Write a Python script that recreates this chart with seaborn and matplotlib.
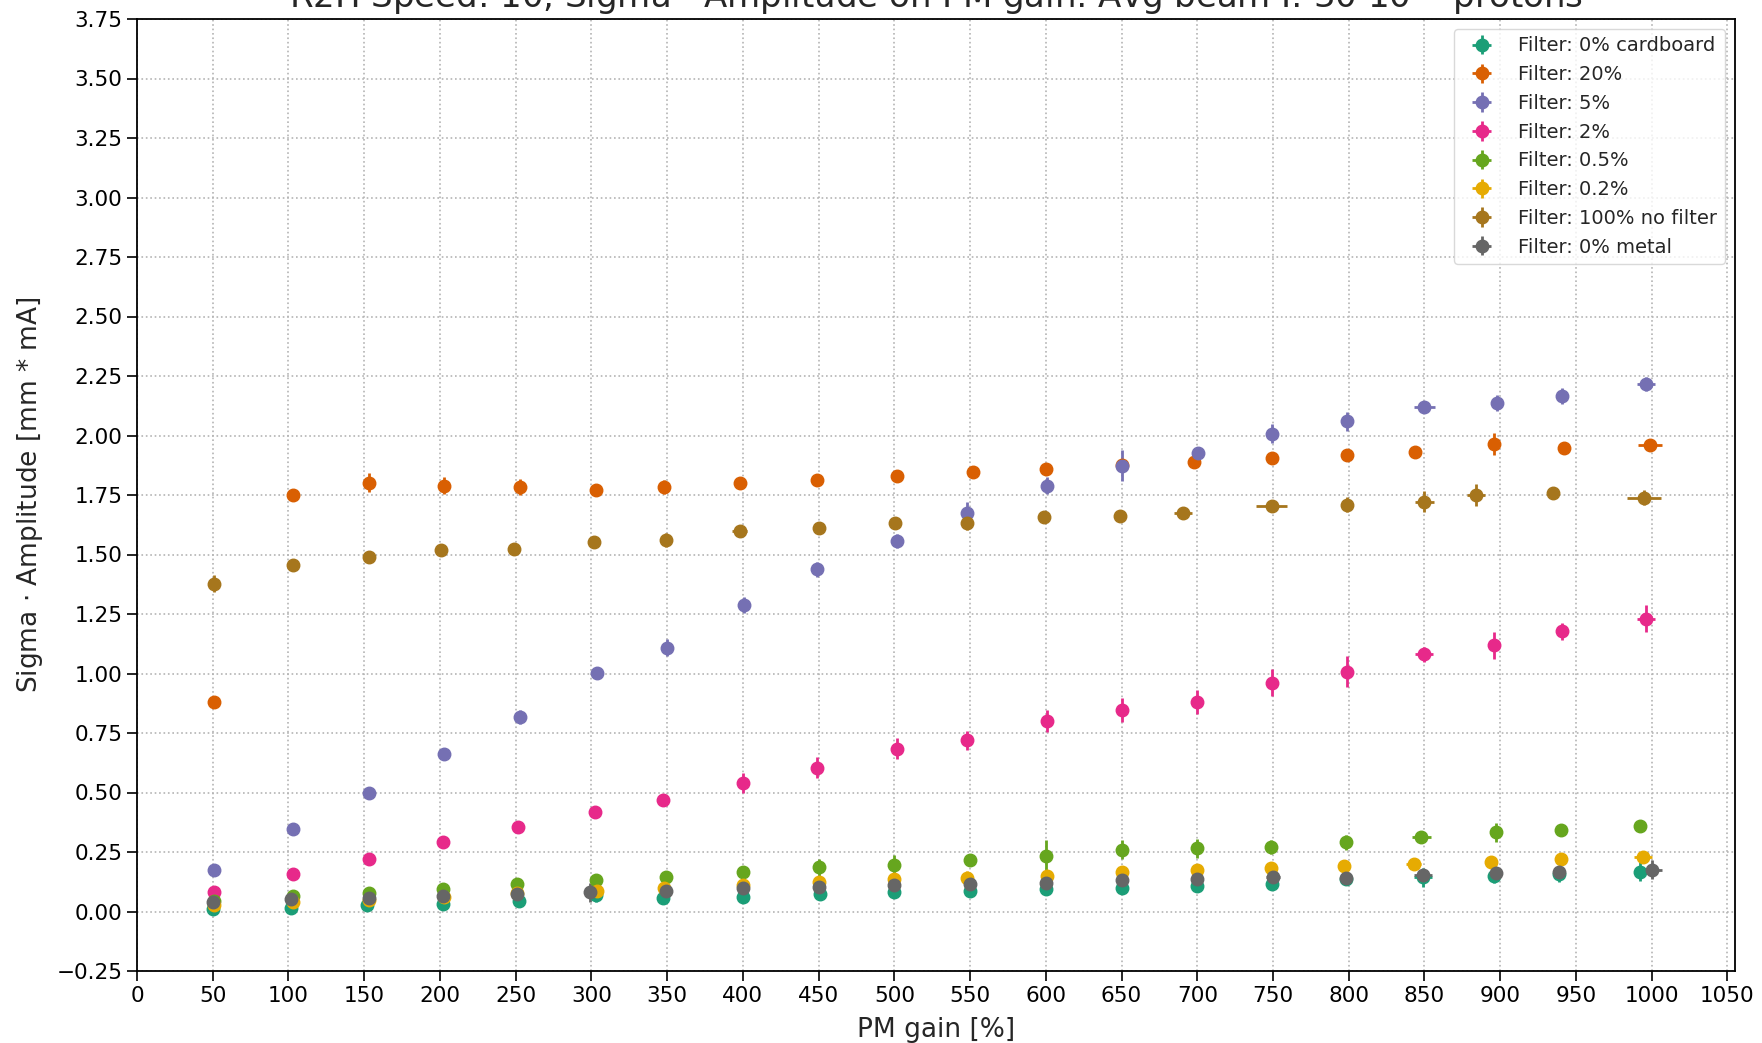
import numpy as np
import matplotlib
matplotlib.use("Agg")
import matplotlib.pyplot as plt
import seaborn as sns

# PM gain [%] and Sigma*Amplitude [mm*mA] per filter, with uncertainties
labels = ["Filter: 0% cardboard", "Filter: 20%", "Filter: 5%", "Filter: 2%",
          "Filter: 0.5%", "Filter: 0.2%", "Filter: 100% no filter", "Filter: 0% metal"]

cardboard_x = [50, 102, 152, 202, 252, 303, 347, 400, 451, 500, 550, 600, 650, 700, 749, 798, 849, 896, 939, 992]
cardboard_y = [0.010, 0.016, 0.026, 0.033, 0.046, 0.068, 0.058, 0.063, 0.075, 0.081, 0.087, 0.094, 0.099, 0.106, 0.116, 0.137, 0.143, 0.150, 0.157, 0.168]
cardboard_yerr = [0.01, 0.01, 0.01, 0.01, 0.01, 0.03, 0.01, 0.01, 0.01, 0.01, 0.01, 0.01, 0.01, 0.01, 0.01, 0.015, 0.04, 0.03, 0.035, 0.04]
cardboard_xerr = [0, 0, 0, 0, 0, 0, 0, 0, 0, 0, 0, 0, 0, 0, 0, 0, 6, 0, 0, 0]

f20_x = [51, 103, 153, 203, 253, 303, 348, 398, 449, 502, 552, 600, 650, 698, 749, 799, 844, 896, 942, 999]
f20_y = [0.879, 1.751, 1.801, 1.789, 1.783, 1.772, 1.784, 1.802, 1.814, 1.830, 1.847, 1.858, 1.878, 1.889, 1.904, 1.917, 1.931, 1.965, 1.946, 1.959]
f20_yerr = [0.012, 0.02, 0.04, 0.035, 0.035, 0.02, 0.03, 0.025, 0.015, 0.015, 0.015, 0.015, 0.015, 0.012, 0.012, 0.012, 0.012, 0.045, 0.012, 0.012]
f20_xerr = [0, 0, 0, 0, 0, 0, 0, 0, 0, 0, 0, 0, 0, 3, 0, 3, 4, 0, 0, 8]

f5_x = [51, 103, 153, 203, 253, 303.5, 350, 401, 449, 501.5, 548, 601, 650.6, 700.8, 749, 799, 850, 898, 941, 996]
f5_y = [0.175, 0.347, 0.499, 0.662, 0.816, 1.003, 1.108, 1.288, 1.437, 1.557, 1.674, 1.789, 1.872, 1.928, 2.008, 2.060, 2.121, 2.136, 2.166, 2.217]
f5_yerr = [0.015, 0.012, 0.025, 0.02, 0.03, 0.012, 0.035, 0.035, 0.03, 0.03, 0.045, 0.035, 0.065, 0.012, 0.04, 0.04, 0.012, 0.035, 0.035, 0.03]
f5_xerr = [0, 0, 0, 0, 0, 0, 0, 0, 0, 0, 0, 0, 0, 0, 0, 0, 7, 0, 0, 6]

f2_x = [51, 103, 153, 202, 251.6, 302.5, 347, 400, 449, 501.5, 548, 601, 650, 700, 749, 799, 849.5, 896, 941, 996]
f2_y = [0.082, 0.157, 0.219, 0.291, 0.353, 0.417, 0.470, 0.540, 0.604, 0.684, 0.719, 0.801, 0.845, 0.881, 0.962, 1.008, 1.080, 1.118, 1.177, 1.231]
f2_yerr = [0.02, 0.02, 0.025, 0.025, 0.02, 0.025, 0.015, 0.04, 0.045, 0.045, 0.04, 0.045, 0.05, 0.05, 0.055, 0.065, 0.03, 0.055, 0.035, 0.055]
f2_xerr = [0, 0, 0, 0, 0, 0, 0, 0, 0, 0, 0, 0, 0, 0, 0, 0, 6, 0, 0, 6]

f05_x = [51, 103, 153, 202, 251, 303, 349, 400, 450, 500, 550, 600, 650, 700, 748.5, 798, 848, 897, 940, 992]
f05_y = [0.045, 0.066, 0.078, 0.094, 0.117, 0.133, 0.145, 0.168, 0.185, 0.196, 0.216, 0.232, 0.260, 0.266, 0.272, 0.290, 0.315, 0.332, 0.343, 0.360]
f05_yerr = [0.01, 0.02, 0.02, 0.02, 0.025, 0.025, 0.025, 0.02, 0.035, 0.04, 0.025, 0.07, 0.04, 0.04, 0.03, 0.03, 0.02, 0.04, 0.02, 0.015]
f05_xerr = [0, 0, 0, 0, 0, 0, 0, 0, 0, 0, 0, 0, 0, 0, 0, 0, 6, 0, 0, 0]

f02_x = [51, 103, 153, 203, 251, 304, 348, 400, 450, 500, 548, 600.7, 650, 700, 748.5, 797, 843, 894, 940, 994]
f02_y = [0.028, 0.040, 0.050, 0.062, 0.079, 0.087, 0.097, 0.110, 0.124, 0.136, 0.142, 0.150, 0.164, 0.175, 0.181, 0.192, 0.199, 0.209, 0.220, 0.230]
f02_yerr = [0.01, 0.015, 0.015, 0.015, 0.015, 0.02, 0.015, 0.015, 0.02, 0.02, 0.03, 0.025, 0.025, 0.025, 0.025, 0.02, 0.02, 0.025, 0.025, 0.015]
f02_xerr = [0, 0, 0, 0, 0, 0, 0, 0, 0, 0, 0, 0, 0, 0, 0, 0, 5, 0, 0, 6]

nofilter_x = [51, 103, 153, 201, 249, 302, 349, 398, 450.5, 500.6, 548, 599, 649, 690.7, 749, 799, 850, 884, 935, 995]
nofilter_y = [1.378, 1.454, 1.488, 1.517, 1.523, 1.552, 1.562, 1.598, 1.610, 1.632, 1.632, 1.658, 1.662, 1.676, 1.703, 1.710, 1.722, 1.750, 1.759, 1.739]
nofilter_yerr = [0.035, 0.012, 0.012, 0.015, 0.012, 0.012, 0.03, 0.015, 0.012, 0.015, 0.03, 0.012, 0.012, 0.012, 0.012, 0.03, 0.045, 0.045, 0.012, 0.03]
nofilter_xerr = [0, 0, 0, 0, 0, 0, 0, 5, 0, 4, 0, 4, 0, 6, 10, 0, 6, 6, 3, 11]

metal_x = [50, 102, 153, 202, 251, 298.8, 349, 400, 450, 500, 550, 600, 650, 700, 750, 798, 849, 897.5, 938.5, 1000]
metal_y = [0.040, 0.052, 0.058, 0.064, 0.075, 0.080, 0.086, 0.097, 0.105, 0.110, 0.114, 0.121, 0.133, 0.138, 0.145, 0.141, 0.153, 0.161, 0.167, 0.175]
metal_yerr = [0.012, 0.02, 0.012, 0.012, 0.012, 0.04, 0.012, 0.012, 0.012, 0.012, 0.012, 0.012, 0.012, 0.012, 0.012, 0.02, 0.02, 0.02, 0.025, 0.04]
metal_xerr = [0, 0, 0, 0, 0, 0, 0, 0, 0, 0, 0, 0, 0, 0, 4.5, 0, 6, 0, 0, 7]

series = [
    (cardboard_x, cardboard_y, cardboard_xerr, cardboard_yerr),
    (f20_x, f20_y, f20_xerr, f20_yerr),
    (f5_x, f5_y, f5_xerr, f5_yerr),
    (f2_x, f2_y, f2_xerr, f2_yerr),
    (f05_x, f05_y, f05_xerr, f05_yerr),
    (f02_x, f02_y, f02_xerr, f02_yerr),
    (nofilter_x, nofilter_y, nofilter_xerr, nofilter_yerr),
    (metal_x, metal_y, metal_xerr, metal_yerr),
]

xticks = np.arange(0, 1051, 50)
yticks = np.arange(-0.25, 3.76, 0.25)

sns.set_style("white")
plt.rcParams["font.family"] = ["DejaVu Sans"]
palette = sns.color_palette("Dark2", len(labels))

fig, ax = plt.subplots(figsize=(17.62, 10.43), dpi=100)
fig.subplots_adjust(left=137 / 1762, right=1735 / 1762, top=1 - 19 / 1043, bottom=72 / 1043)

for (x, y, xe, ye), lab, col in zip(series, labels, palette):
    ax.errorbar(x, y, yerr=ye, xerr=xe, fmt="o", color=col, markersize=9,
                elinewidth=2, capsize=0, label=lab)

ax.set_xlim(0, 1055)
ax.set_ylim(-0.25, 3.75)
ax.set_xticks(xticks)
ax.set_yticks(yticks)
ax.yaxis.set_major_formatter(
    matplotlib.ticker.FuncFormatter(lambda v, _: f"{v:.2f}".replace("-", "\u2212")))
ax.tick_params(axis="both", labelsize=15.5, length=7, width=1.2, direction="out",
               left=True, bottom=True, colors="black")
ax.grid(True, linestyle=":", linewidth=1.2, color="#b4b4b4")
for s in ax.spines.values():
    s.set_color("black")
    s.set_linewidth(1.3)

ax.set_xlabel("PM gain [%]", fontsize=19, labelpad=8)
ax.set_ylabel("Sigma $\\cdot$ Amplitude [mm * mA]", fontsize=19, labelpad=8)
ax.set_title("R2H Speed: 10, Sigma $\\cdot$ Amplitude on PM gain: Avg beam I: 30$\\cdot$10$^{10}$ protons",
             fontsize=24.5, pad=8)

leg = ax.legend(loc="upper right", fontsize=14, frameon=True, labelspacing=0.5,
                borderaxespad=0.5, handletextpad=0.9)
leg.get_frame().set_edgecolor("#d0d0d0")

fig.savefig("out.png", dpi=100)
